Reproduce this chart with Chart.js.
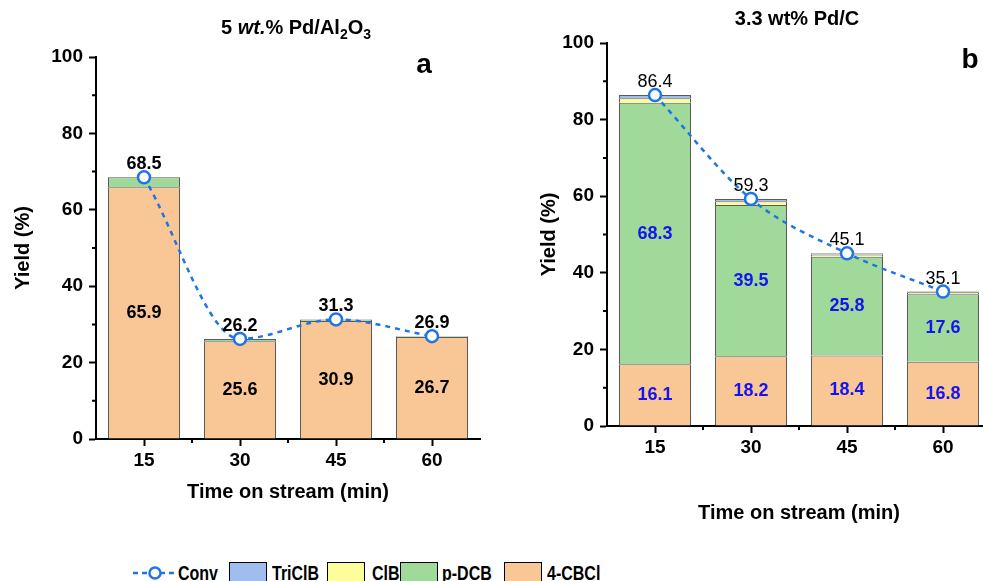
<!DOCTYPE html>
<html>
<head>
<meta charset="utf-8">
<script src="https://cdn.jsdelivr.net/npm/chart.js@4.4.0/dist/chart.umd.min.js"></script>
<style>
    html, body { margin: 0; padding: 0; background: #fff; width: 983px; height: 581px; overflow: hidden; }
    #wrap { position: relative; width: 983px; height: 581px; overflow: hidden; }
    canvas { position: absolute; top: 0; }
    #chartA { left: 0; }
    #chartB { left: 490px; }
    .ley { position: absolute; top: 563px; line-height: 20px; font-family: "Liberation Sans", Arial, sans-serif; font-weight: bold; font-size: 20px; color: #000; white-space: nowrap; transform: scaleX(0.8); transform-origin: 0 50%; }
    .caja { position: absolute; top: 562px; width: 38px; height: 24px; box-sizing: border-box; border: 1.5px solid #000; }
</style>
</head>
<body>
<div id="wrap">
    <canvas id="chartA" width="500" height="520"></canvas>
    <canvas id="chartB" width="520" height="540"></canvas>

    <!-- leyenda compartida -->
    <svg style="position:absolute;left:133px;top:564px" width="44" height="18">
        <line x1="0" y1="9" x2="44" y2="9" stroke="#1f75e6" stroke-width="2.5" stroke-dasharray="5,4"/>
        <circle cx="22" cy="9" r="5.5" fill="#fff" stroke="#1f75e6" stroke-width="2.5"/>
    </svg>
    <span class="ley" style="left:178px">Conv</span>
    <div class="caja" style="left:229px;background:#9fbdee"></div>
    <span class="ley" style="left:272px">TriClB</span>
    <div class="caja" style="left:327px;background:#fdfd9c"></div>
    <span class="ley" style="left:372px">ClB</span>
    <div class="caja" style="left:400px;background:#a1d99b"></div>
    <span class="ley" style="left:442px">p-DCB</span>
    <div class="caja" style="left:504px;background:#f9c795"></div>
    <span class="ley" style="left:547px">4-CBCl</span>
</div>

<script>
// Datos
const minutos = ['15', '30', '45', '60'];
const yTicks = [0, 20, 40, 60, 80, 100];

// a) 5 wt.% Pd/Al2O3
const convA = [68.5, 26.2, 31.3, 26.9];
const cbclA = [65.9, 25.6, 30.9, 26.7];
const dcbA = [2.6, 0.6, 0.4, 0.2];
const clbA = [0, 0, 0, 0];
const triclbA = [0, 0, 0, 0];

// b) 3.3 wt% Pd/C
const convB = [86.4, 59.3, 45.1, 35.1];
const cbclB = [16.1, 18.2, 18.4, 16.8];
const dcbB = [68.3, 39.5, 25.8, 17.6];
const clbB = [1.2, 1.0, 0.6, 0.5];
const triclbB = [0.8, 0.6, 0.3, 0.2];

const FUENTE = '"Liberation Sans", Arial, sans-serif';
Chart.defaults.font.family = FUENTE;
Chart.defaults.color = '#000';

const AZUL_LINEA = '#1f75e6';
const colores = { cbcl: '#f9c795', dcb: '#a1d99b', clb: '#fdfd9c', triclb: '#9fbdee' };

// Titulo con cursiva y subindices + letra del panel
const tituloRico = {
    id: 'tituloRico',
    afterDraw(chart, args, opts) {
        const ctx = chart.ctx;
        ctx.save();
        ctx.fillStyle = '#000';
        ctx.textBaseline = 'alphabetic';
        ctx.textAlign = 'left';
        let total = 0;
        const partes = opts.partes.map(p => {
            const font = `${p.italic ? 'italic ' : ''}bold ${p.sub ? 14 : 20}px ${FUENTE}`;
            ctx.font = font;
            const w = ctx.measureText(p.t).width;
            total += w;
            return { ...p, font, w };
        });
        let x = opts.x - total / 2;
        partes.forEach(p => {
            ctx.font = p.font;
            ctx.fillText(p.t, x, opts.y + (p.sub ? 5 : 0));
            x += p.w;
        });
        ctx.font = `bold 28px ${FUENTE}`;
        ctx.textAlign = 'center';
        ctx.fillText(opts.letra, opts.letraX, opts.letraY);
        ctx.restore();
    }
};

// Valores sobre barras y puntos
const etiquetas = {
    id: 'etiquetas',
    afterDatasetsDraw(chart) {
        const ctx = chart.ctx;
        chart.data.datasets.forEach((ds, i) => {
            if (!ds.etiqueta) return;
            const meta = chart.getDatasetMeta(i);
            ctx.save();
            ctx.font = ds.etiqueta.font;
            ctx.fillStyle = ds.etiqueta.color;
            ctx.textAlign = 'center';
            ctx.textBaseline = 'middle';
            meta.data.forEach((el, j) => {
                const y = meta.type === 'line' ? el.y - 13 : (el.y + el.base) / 2;
                ctx.fillText(ds.data[j].toFixed(1), el.x, y);
            });
            ctx.restore();
        });
    }
};

// Ticks menores en ambos ejes
const ticksMenores = {
    id: 'ticksMenores',
    afterDraw(chart) {
        const { ctx, chartArea, scales: { x, y } } = chart;
        ctx.save();
        ctx.strokeStyle = '#000';
        ctx.lineWidth = 2;
        ctx.beginPath();
        for (let i = 0; i < yTicks.length - 1; i++) {
            const py = y.getPixelForValue((yTicks[i] + yTicks[i + 1]) / 2);
            ctx.moveTo(chartArea.left, py);
            ctx.lineTo(chartArea.left - 4, py);
        }
        for (let i = 0; i < minutos.length - 1; i++) {
            const px = (x.getPixelForTick(i) + x.getPixelForTick(i + 1)) / 2;
            ctx.moveTo(px, chartArea.bottom);
            ctx.lineTo(px, chartArea.bottom + 4);
        }
        ctx.stroke();
        ctx.restore();
    }
};

const barra = (label, data, color, etiqueta) => ({
    type: 'bar',
    label: label,
    data: data,
    order: 1,
    backgroundColor: color,
    borderColor: '#5a5a5a',
    borderWidth: 1,
    barPercentage: 0.75,
    categoryPercentage: 1.0,
    etiqueta: etiqueta
});

const crearPanel = (ctxId, p) => {
    new Chart(document.getElementById(ctxId), {
        data: {
            labels: minutos,
            datasets: [
                {
                    type: 'line',
                    label: 'Conv',
                    data: p.conv,
                    order: 0,
                    stack: 'conv',
                    borderColor: AZUL_LINEA,
                    borderWidth: 2.5,
                    borderDash: [5, 5],
                    cubicInterpolationMode: 'monotone',
                    pointRadius: 6,
                    pointBorderWidth: 2.5,
                    pointBackgroundColor: '#fff',
                    pointBorderColor: AZUL_LINEA,
                    etiqueta: { font: `${p.convPeso} 18px ${FUENTE}`, color: '#000' }
                },
                barra('4-CBCl', p.cbcl, colores.cbcl, { font: `bold 18px ${FUENTE}`, color: p.colorEtq }),
                barra('p-DCB', p.dcb, colores.dcb, p.etqDcb ? { font: `bold 18px ${FUENTE}`, color: p.colorEtq } : null),
                barra('ClB', p.clb, colores.clb, null),
                barra('TriClB', p.triclb, colores.triclb, null)
            ]
        },
        options: {
            responsive: false,
            animation: false,
            layout: { padding: p.padding },
            plugins: {
                legend: { display: false },
                tooltip: { enabled: false },
                tituloRico: p.titulo
            },
            scales: {
                x: {
                    type: 'category',
                    stacked: true,
                    offset: true,
                    afterFit: s => { s.height = p.altoX; },
                    grid: { drawOnChartArea: false, offset: false, tickLength: 7, tickWidth: 2, tickColor: '#000' },
                    border: { display: true, color: '#000', width: 2 },
                    ticks: { font: { size: 19, weight: 'bold' }, color: '#000', padding: 3, maxRotation: 0 },
                    title: {
                        display: true, text: 'Time on stream (min)', color: '#000',
                        font: { size: 20, weight: 'bold' }, padding: { top: 0, bottom: p.padTituloX }
                    }
                },
                y: {
                    stacked: true,
                    min: 0,
                    max: 100,
                    afterFit: s => { s.width = p.anchoY; },
                    grid: { drawOnChartArea: false, tickLength: 7, tickWidth: 2, tickColor: '#000' },
                    border: { display: true, color: '#000', width: 2 },
                    ticks: { stepSize: 20, font: { size: 19, weight: 'bold' }, color: '#000', padding: 6 },
                    title: {
                        display: true, text: 'Yield (%)', color: '#000',
                        font: { size: 20, weight: 'bold' }, padding: { top: 11, bottom: 0 }
                    }
                }
            }
        },
        plugins: [tituloRico, etiquetas, ticksMenores]
    });
};

document.addEventListener('DOMContentLoaded', () => {
    crearPanel('chartA', {
        conv: convA, cbcl: cbclA, dcb: dcbA, clb: clbA, triclb: triclbA,
        convPeso: 'bold', colorEtq: '#000', etqDcb: false,
        padding: { top: 57, left: 0, right: 20, bottom: 0 },
        anchoY: 96, altoX: 81, padTituloX: 16,
        titulo: {
            x: 296, y: 34, letra: 'a', letraX: 424, letraY: 73,
            partes: [
                { t: '5 ' }, { t: 'wt.', italic: true }, { t: '% Pd/Al' },
                { t: '2', sub: true }, { t: 'O' }, { t: '3', sub: true }
            ]
        }
    });
    crearPanel('chartB', {
        conv: convB, cbcl: cbclB, dcb: dcbB, clb: clbB, triclb: triclbB,
        convPeso: 'normal', colorEtq: '#1414ee', etqDcb: true,
        padding: { top: 43, left: 36, right: 19, bottom: 0 },
        anchoY: 81, altoX: 114, padTituloX: 15,
        titulo: {
            x: 307, y: 25, letra: 'b', letraX: 480, letraY: 68,
            partes: [{ t: '3.3 wt% Pd/C' }]
        }
    });
});
</script>
</body>
</html>
